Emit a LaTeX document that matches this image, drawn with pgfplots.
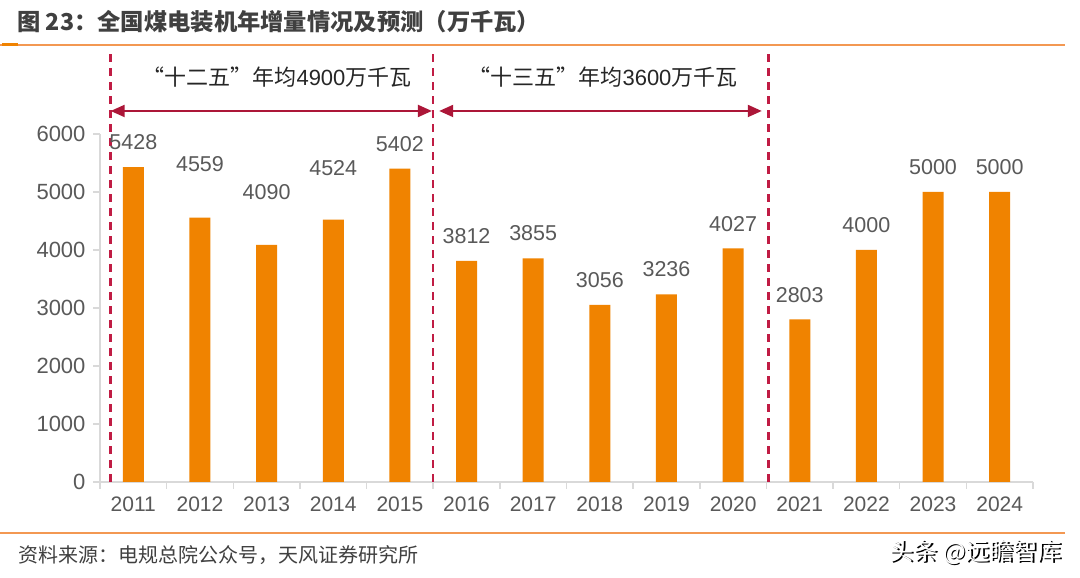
\documentclass[border=0pt]{standalone}
\usepackage{pgfplots}
\pgfplotsset{compat=1.18}
\usepackage{pgfplotstable}
\usetikzlibrary{arrows.meta}
\usepackage{fontspec}
\setmainfont{Liberation Sans}
\newfontfamily\cjk{Noto Sans CJK SC}
\newcommand\fs[1]{\fontsize{#1}{#1}\selectfont}
\definecolor{barorange}{RGB}{240,131,0}
\definecolor{dashred}{RGB}{192,28,68}
\definecolor{arrowred}{RGB}{172,22,56}
\definecolor{axisgray}{RGB}{217,217,217}
\definecolor{textgray}{RGB}{89,89,89}
\definecolor{titlegray}{RGB}{64,64,64}
\definecolor{lineorange}{RGB}{243,152,82}

\pgfplotstableread{
x y dy
0 5428 17
1 4559 46
2 4090 45
3 4524 44
4 5402 17
5 3812 17
6 3855 17
7 3056 17
8 3236 17
9 4027 17
10 2803 17
11 4000 17
12 5000 17
13 5000 17
}\datatable

\begin{document}
\begin{tikzpicture}
\fill[white] (0pt,0pt) rectangle (1080pt,578pt);
\useasboundingbox (0pt,0pt) rectangle (1080pt,578pt);
% title
\node[anchor=west, inner sep=0pt, text=titlegray] at (17pt,556pt) {\fs{23.3}\cjk\bfseries 图 23：全国煤电装机年增量情况及预测（万千瓦）};
\draw[lineorange, line width=1.3pt] (0pt,533pt) -- (1065pt,533pt);
\fill[barorange] (2pt,531.5pt) rectangle (18pt,534.5pt);
% bottom line and source
\draw[lineorange, line width=1.3pt] (0pt,45pt) -- (1065pt,45pt);
\node[anchor=west, inner sep=0pt, text=titlegray] at (18pt,23pt) {\fs{20}\cjk 资料来源：电规总院公众号，天风证券研究所};
\node[anchor=east, inner sep=0pt, text=black] at (1063.5pt,25pt) {\fs{24}\cjk 头条 @远瞻智库};
\node[anchor=east, inner sep=0pt, text=white] at (1062pt,26pt) {\fs{24}\cjk 头条 @远瞻智库};

\begin{axis}[
  at={(100pt,96pt)}, anchor=south west, scale only axis,
  width=933pt, height=348pt,
  xmin=-0.5, xmax=13.5, ymin=0, ymax=6000,
  clip=false,
  axis x line=bottom, axis y line=left,
  x axis line style={draw=axisgray, line width=1.5pt, -},
  y axis line style={draw=axisgray, line width=1.5pt, -},
  xtick={0,...,13},
  xticklabels={2011,2012,2013,2014,2015,2016,2017,2018,2019,2020,2021,2022,2023,2024},
  major x tick style={draw=none},
  minor xtick={-0.5,0.5,...,13.5},
  minor x tick style={draw=axisgray, line width=1.5pt},
  minor tick length=7pt,
  ytick={0,1000,...,6000},
  major tick length=7pt,
  y tick style={draw=axisgray, line width=1.5pt},
  tick align=outside,
  /pgf/number format/assume math mode=true,
  /pgf/number format/1000 sep={},
  scaled y ticks=false,
  xticklabel style={font=\fs{21}, text=textgray, yshift=-4pt},
  yticklabel style={font=\fs{22}, text=textgray, xshift=-4pt},
]
\addplot[ybar, bar width=21pt, fill=barorange, draw=none,
  point meta=explicit symbolic,
  visualization depends on={\thisrow{dy}\as\dy},
  nodes near coords,
  nodes near coords style={anchor=south, inner sep=0pt, yshift=\dy pt, font=\fs{21.5}, text=textgray}]
  table[x=x, y=y, meta=y] {\datatable};

% dashed separators
\draw[dashred, line width=2.5pt, dash pattern=on 8pt off 6pt] (axis cs:-0.34,0) -- (axis cs:-0.34,7450);
\draw[dashred, line width=2.5pt, dash pattern=on 8pt off 6pt] (axis cs:4.5,0) -- (axis cs:4.5,7450);
\draw[dashred, line width=2.5pt, dash pattern=on 8pt off 6pt] (axis cs:9.53,0) -- (axis cs:9.53,7450);
% arrows
\draw[arrowred, line width=2pt, {Triangle[length=14pt,width=12pt]}-{Triangle[length=14pt,width=12pt]}] (axis cs:-0.34,6397) -- (axis cs:4.48,6397);
\draw[arrowred, line width=2pt, {Triangle[length=14pt,width=12pt]}-{Triangle[length=14pt,width=12pt]}] (axis cs:4.59,6397) -- (axis cs:9.43,6397);
% annotations
\node[text=black!85, inner sep=0pt] at (axis cs:2.156,6983) {\fs{22}{\cjk “十二五”年均}4900{\cjk 万千瓦}};
\node[text=black!85, inner sep=0pt] at (axis cs:7.048,6983) {\fs{22}{\cjk “十三五”年均}3600{\cjk 万千瓦}};
\end{axis}
\end{tikzpicture}
\end{document}
